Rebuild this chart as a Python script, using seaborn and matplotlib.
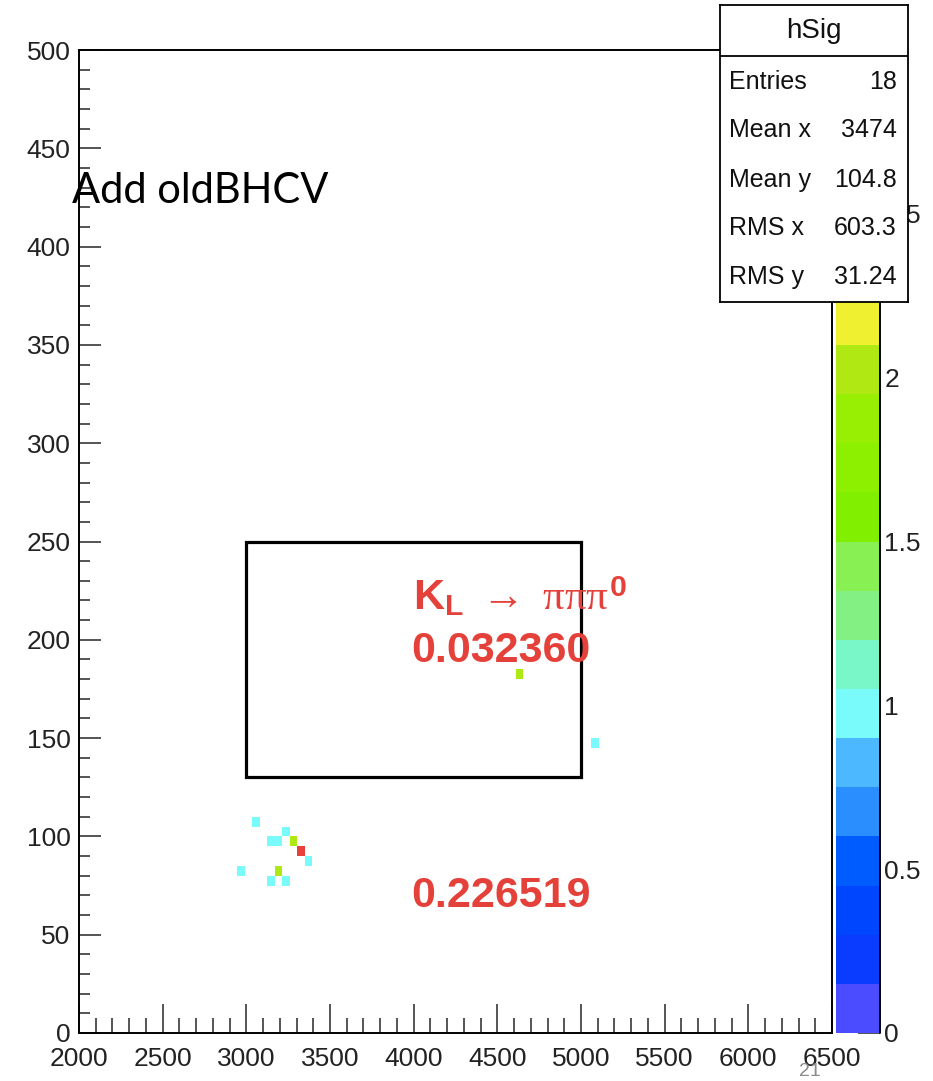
import numpy as np
import matplotlib
matplotlib.use("Agg")
import matplotlib.pyplot as plt
import seaborn as sns
from matplotlib.colors import ListedColormap
from matplotlib.patches import Rectangle
from matplotlib.ticker import MultipleLocator, FormatStrFormatter

# filled cells of hSig: bin centres and contents
cell_x = [3057.5, 3237.5, 3147.5, 3192.5, 3282.5, 3327.5, 3372.5,
          2967.5, 3192.5, 3147.5, 3237.5, 4632.5, 5082.5]
cell_y = [107.5, 102.5, 97.5, 97.5, 97.5, 92.5, 87.5,
          82.5, 82.5, 77.5, 77.5, 182.5, 147.5]
cell_n = [1, 1, 1, 1, 2, 3, 1, 1, 2, 1, 1, 2, 1]

# signal region box
box_x = [3000, 5000]
box_y = [130, 250]

# stats box
stat_names = ["Entries", "Mean x", "Mean y", "RMS x", "RMS y"]
stat_values = ["18", "3474", "104.8", "603.3", "31.24"]

# palette, 20 contour levels from 0 to 3
palette = ["#4b4bff", "#0a3cff", "#0046ff", "#005cff", "#2a8eff",
           "#4cb8ff", "#79fbfb", "#7af7c8", "#82f082", "#88f052",
           "#80f000", "#8cf000", "#99ef04", "#b0e814", "#eef030",
           "#ffd72a", "#ffae20", "#ff8420", "#ff5a2c", "#e8403a"]
pal = ListedColormap(palette)

sns.set_style("ticks")
plt.rcParams["font.family"] = ["Liberation Sans", "DejaVu Sans"]
plt.rcParams["mathtext.fontset"] = "custom"
plt.rcParams["mathtext.rm"] = "Liberation Sans"
plt.rcParams["mathtext.bf"] = "Liberation Sans:bold"
plt.rcParams["mathtext.it"] = "Liberation Serif"

W, H = 933, 1081
fig = plt.figure(figsize=(W / 100, H / 100), dpi=100)
fig.patch.set_facecolor("white")

def fx(x):
    return x / W

def fy(y):
    return 1 - y / H

ax = fig.add_axes([fx(79), fy(1033), (832 - 79) / W, (1033 - 50) / H])
cax = fig.add_axes([fx(836), fy(1033), 44 / W, (1033 - 50) / H])

sns.histplot(x=cell_x, y=cell_y, weights=cell_n, binwidth=(45, 5),
             binrange=((2000, 6500), (0, 500)), cmap=pal, vmin=0, vmax=3,
             ax=ax)
mesh = ax.collections[0]
mesh.set_clim(0, 3)

ax.set_xlim(2000, 6500)
ax.set_ylim(0, 500)
ax.set_xlabel("")
ax.set_ylabel("")
ax.xaxis.set_major_locator(MultipleLocator(500))
ax.xaxis.set_minor_locator(MultipleLocator(100))
ax.yaxis.set_major_locator(MultipleLocator(50))
ax.yaxis.set_minor_locator(MultipleLocator(10))
ax.tick_params(axis="x", which="major", direction="in", length=21, width=1.1,
               labelsize=19, pad=10, labelcolor="#222222")
ax.tick_params(axis="x", which="minor", direction="in", length=11, width=1.1)
ax.tick_params(axis="y", which="major", direction="in", length=16, width=1.1,
               labelsize=19, pad=6, labelcolor="#222222")
ax.tick_params(axis="y", which="minor", direction="in", length=8, width=1.1)
for s in ax.spines.values():
    s.set_visible(True)
    s.set_color("black")
    s.set_linewidth(1.4)

ax.add_patch(Rectangle((box_x[0], box_y[0]), box_x[1] - box_x[0],
                       box_y[1] - box_y[0], fill=False, lw=2.3,
                       edgecolor="black", zorder=4))

# palette axis
cb = fig.colorbar(mesh, cax=cax)
cb.outline.set_visible(False)
cax.axvline(1, color="black", lw=1.4, clip_on=False)
cax.yaxis.set_ticks_position("right")
cax.yaxis.set_major_locator(MultipleLocator(0.5))
cax.yaxis.set_major_formatter(FormatStrFormatter("%g"))
cax.tick_params(axis="y", which="major", direction="in", length=16, width=1.1,
                labelsize=19, pad=3, labelcolor="#222222")
cax.minorticks_off()

# stats box
sax = fig.add_axes([fx(720), fy(302), 188 / W, 297 / H])
sax.set_zorder(5)
sax.set_facecolor("white")
sax.set_xlim(0, 1)
sax.set_ylim(0, 1)
sax.set_xticks([])
sax.set_yticks([])
for s in sax.spines.values():
    s.set_color("black")
    s.set_linewidth(1.3)
sax.axhline(0.828, color="black", lw=1.3)
sax.text(0.5, 0.912, "hSig", ha="center", va="center", fontsize=20,
         color="#111111")
row_y = [0.741, 0.579, 0.411, 0.249, 0.084]
for name, val, yy in zip(stat_names, stat_values, row_y):
    sax.text(0.048, yy, name, ha="left", va="center", fontsize=18,
             color="#111111")
    sax.text(0.941, yy, val, ha="right", va="center", fontsize=18,
             color="#111111")

# annotations
red = "#e5413b"
fig.text(fx(413), fy(610), r"$\mathbf{K}_{\mathbf{L}}\ \rightarrow\ \pi\pi\pi^{\mathbf{0}}$",
         fontsize=31, color=red, va="baseline", ha="left")
fig.text(fx(411), fy(662), "0.032360", fontsize=31, fontweight="bold",
         color=red, va="baseline", ha="left")
fig.text(fx(411), fy(907), "0.226519", fontsize=31, fontweight="bold",
         color=red, va="baseline", ha="left")
fig.text(fx(72), fy(203), "Add oldBHCV", fontsize=30, family=["Lato", "DejaVu Sans"],
         color="black", va="baseline", ha="left")
fig.text(fx(799), fy(1076), "21", fontsize=14, color="#8a8a8a",
         va="baseline", ha="left")

fig.savefig("out.png", dpi=100, facecolor="white")
